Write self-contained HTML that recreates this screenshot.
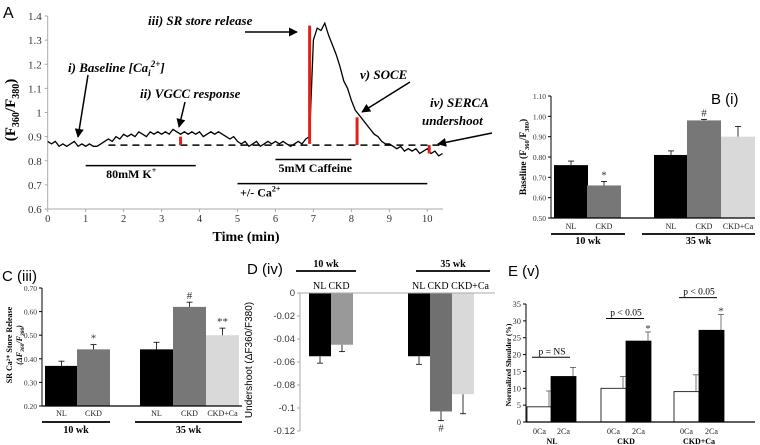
<!DOCTYPE html>
<html><head><meta charset="utf-8">
<style>
html,body{margin:0;padding:0;background:#fff;}
svg{display:block;font-family:"Liberation Serif",serif;}
.sans{font-family:"Liberation Sans",sans-serif;}
</style></head>
<body>
<svg id="fig" width="760" height="445" viewBox="0 0 760 445" xmlns="http://www.w3.org/2000/svg">
<defs><marker id="ah" viewBox="0 0 10 10" refX="9" refY="5" markerWidth="6" markerHeight="6" orient="auto"><path d="M0,0 L10,5 L0,10 z" fill="#000"/></marker></defs>
<g id="pA"></g>
<g id="pB"></g>
<g id="pC"></g>
<g id="pD"></g>
<g id="pE"></g>
</svg>
<script>
// ---------- Panel A data ----------
const traceValues = [0.88,0.87,0.88,0.86,0.87,0.86,0.87,0.88,0.86,0.87,0.86,0.87,0.86,0.86,0.87,0.88,
0.89,0.88,0.90,0.89,0.91,0.90,0.91,0.90,0.92,0.91,0.90,0.92,0.91,0.92,0.91,
0.92,0.91,0.93,0.92,0.91,0.92,0.91,0.92,0.91,0.92,0.90,0.91,0.92,0.91,0.92,
0.91,0.90,0.89,0.90,0.88,0.87,0.88,0.86,0.87,0.88,
0.86,0.87,0.88,0.87,0.88,0.87,0.88,0.87,0.86,0.87,0.88,0.87,0.89,
0.90,1.30,1.35,1.34,1.37,1.32,1.28,1.24,1.19,1.13,1.10,1.05,1.01,0.99,0.97,0.95,0.93,0.91,0.90,0.88,0.87,0.87,
0.86,0.85,0.86,0.84,0.85,0.84,0.85,0.83,0.84,0.85,0.83,0.84,0.82,0.83];
const traceStep = 0.1;
const aYTicks = ["0.6","0.7","0.8","0.9","1","1.1","1.2","1.3","1.4"];
const aXTicks = [0,1,2,3,4,5,6,7,8,9,10];
const dashedLevel = 0.865;
const redMarks = [[3.5,0.865,0.90],[6.9,0.87,1.36],[8.15,0.865,0.98],[10.05,0.83,0.865]];

// ---------- Panel B ----------
const bCats = ["NL","CKD","NL","CKD","CKD+Ca"];
const bValues = [0.76,0.66,0.81,0.98,0.90];
const bErrors = [0.02,0.02,0.02,0.005,0.05];
const bMarks = ["","*","","#",""];
const bTicks = ["0.50","0.60","0.70","0.80","0.90","1.00","1.10"];
// ---------- Panel C ----------
const cCats = ["NL","CKD","NL","CKD","CKD+Ca"];
const cValues = [0.37,0.44,0.44,0.62,0.50];
const cErrors = [0.02,0.02,0.03,0.02,0.03];
const cMarks = ["","*","","#","**"];
const cTicks = ["0.20","0.30","0.40","0.50","0.60","0.70"];
// ---------- Panel D ----------
const dCats = ["NL","CKD","NL","CKD","CKD+Ca"];
const dValues = [-0.055,-0.045,-0.055,-0.103,-0.088];
const dErrors = [0.006,0.006,0.007,0.008,0.017];
const dTicks = ["0","-0.02","-0.04","-0.06","-0.08","-0.1","-0.12"];
// ---------- Panel E ----------
const eGroups = ["NL","CKD","CKD+Ca"];
const eCats = ["0Ca","2Ca","0Ca","2Ca","0Ca","2Ca"];
const eValues = [4.5,13.5,10,24,9,27.2];
const eErrors = [4.7,2.7,3.5,2.7,5,4.7];
const ePLabels = ["p = NS","p < 0.05","p < 0.05"];
const eTicks = ["0","5","10","15","20","25","30","35"];

const NS="http://www.w3.org/2000/svg";
function mk(parent,tag,attrs,text){const e=document.createElementNS(NS,tag);for(const k in attrs)e.setAttribute(k,attrs[k]);if(text!==undefined)e.textContent=text;parent.appendChild(e);return e;}

// ===== Panel A =====
(function(){
const g=document.getElementById('pA');
const x0=47.7,pxMin=37.96,yTop=16,yBot=209,vMin=0.6,vMax=1.4;
const X=t=>x0+t*pxMin, Y=v=>yBot-(v-vMin)/(vMax-vMin)*(yBot-yTop);
let t=mk(g,'text',{x:3,y:18,'font-size':16,class:'sans'},'A');

let l=mk(g,'line',{x1:x0,y1:yTop,x2:x0,y2:yBot,stroke:'#aaa','stroke-width':1});

l=mk(g,'line',{x1:x0,y1:yBot,x2:443,y2:yBot,stroke:'#aaa','stroke-width':1});

aYTicks.forEach(s=>{const y=Y(parseFloat(s));
 const tk=mk(g,'line',{x1:x0-3,y1:y,x2:x0,y2:y,stroke:'#aaa'});
 const tl=mk(g,'text',{x:x0-6,y:y+4,'font-size':11,'text-anchor':'end',fill:'#333'},s);});
aXTicks.forEach(v=>{const x=X(v);
 const tk=mk(g,'line',{x1:x,y1:yBot,x2:x,y2:yBot+3,stroke:'#aaa'});
 const tl=mk(g,'text',{x:x,y:yBot+13,'font-size':10.5,'text-anchor':'middle',fill:'#333'},String(v));});
t=mk(g,'text',{x:246,y:241,'font-size':14,'font-weight':'bold','text-anchor':'middle'},'Time (min)');

t=mk(g,'text',{transform:'translate(15,110) rotate(-90)','font-size':15,'font-weight':'bold','text-anchor':'middle'});
t.innerHTML='(F<tspan font-size="10" dy="4">360</tspan><tspan dy="-4">/F</tspan><tspan font-size="10" dy="4">380</tspan><tspan dy="-4">)</tspan>';

l=mk(g,'line',{x1:X(1.6),y1:Y(dashedLevel),x2:X(10.4),y2:Y(dashedLevel),stroke:'#000','stroke-width':1.5,'stroke-dasharray':'7,5'});

const pts=traceValues.map((v,i)=>X(i*traceStep).toFixed(1)+','+Y(v).toFixed(1)).join(' ');
const p=mk(g,'polyline',{points:pts,fill:'none',stroke:'#000','stroke-width':1.3});

redMarks.forEach(r=>{const m=mk(g,'line',{x1:X(r[0]),y1:Y(r[1]),x2:X(r[0]),y2:Y(r[2]),stroke:'#e0201b','stroke-width':3});
 });
const bars=[[1,3.9,0.78,'80mM K',2.2,0.745,'+'],[6,8,0.805,'5mM Caffeine',7.05,0.77,''],[5,10,0.705,'+/- Ca',5.6,0.668,'2+']];
bars.forEach((b,i)=>{const ln=mk(g,'line',{x1:X(b[0]),y1:Y(b[2]),x2:X(b[1]),y2:Y(b[2]),stroke:'#000','stroke-width':1.5});
 
 const tx=mk(g,'text',{x:X(b[4]),y:Y(b[5])+4,'font-size':12,'font-weight':'bold','text-anchor':'middle'});
 tx.innerHTML=b[3]+(b[6]?'<tspan font-size="8" dy="-5">'+b[6]+'</tspan>':'');
 });
const ann=[[148,25,'iii) SR store release'],[68,72,'i) Baseline [Ca<tspan font-size="9" dy="4">i</tspan><tspan font-size="9" dy="-9">2+</tspan><tspan dy="5">]</tspan>'],[140,98,'ii) VGCC response'],[360,79,'v) SOCE'],[430,107,'iv) SERCA'],[422,125,'undershoot']];
ann.forEach(a=>{const tx=mk(g,'text',{x:a[0],y:a[1],'font-size':13,'font-weight':'bold','font-style':'italic'});tx.innerHTML=a[2];
 });
const arrows=[[245,32,297,32],[88,75,78,137],[185,102,179,127],[410,82,362,112],[492,133,438,144]];
arrows.forEach(a=>{const ar=mk(g,'line',{x1:a[0],y1:a[1],x2:a[2],y2:a[3],stroke:'#000','stroke-width':1.5,'marker-end':'url(#ah)'});
 });
})();

function barPanel(gid,o){
 const g=document.getElementById(gid);
 const Y=v=>o.y0-(v-o.vMin)/(o.vMax-o.vMin)*(o.y0-o.y1);
 let l=mk(g,'line',{x1:o.ax,y1:o.y1,x2:o.ax,y2:o.y0,stroke:o.axisColor||'#000','stroke-width':1});
 
 o.ticks.forEach(s=>{const y=Y(parseFloat(s));
  const tk=mk(g,'line',{x1:o.ax-3,y1:y,x2:o.ax,y2:y,stroke:o.axisColor||'#000'});
  const tl=mk(g,'text',{x:o.ax-5,y:y+3,'font-size':o.tickSize||7.5,'text-anchor':'end',fill:'#333',class:o.tickClass||''},s);});
 const base=Y(o.baseVal);
 o.values.forEach((v,i)=>{const x=o.xs[i],w=o.w;const yv=Y(v);
  const r=mk(g,'rect',{x:x,y:Math.min(yv,base),width:w,height:Math.abs(base-yv),fill:o.colors[i],stroke:o.strokes?o.strokes[i]:'none','stroke-width':0.8});
  
  const ey=v<o.baseVal?Y(v-o.errors[i]):Y(v+o.errors[i]);
  const cx=o.errOff?x+w-o.errOff:x+w/2;
  const e=mk(g,'line',{x1:cx,y1:yv,x2:cx,y2:ey,stroke:o.errColor||'#000','stroke-width':0.8});
  const c=mk(g,'line',{x1:cx-3,y1:ey,x2:cx+3,y2:ey,stroke:o.errColor||'#000','stroke-width':0.8});
  if(o.marks&&o.marks[i]){const my=v<o.baseVal?ey+11:ey+(o.markDy!==undefined?o.markDy:-3);
   const m=mk(g,'text',{x:cx,y:my,'font-size':11,'text-anchor':'middle',fill:'#333'},o.marks[i]);}
  if(o.cats){const cl=mk(g,'text',{x:x+w/2,y:o.catY,'font-size':o.catSize||8,'text-anchor':'middle',fill:'#222'},o.cats[i]);}
 });
 return {g,Y};
}
function baseline(g,p,x1,x2,y){const l=mk(g,'line',{x1:x1,y1:y,x2:x2,y2:y,stroke:'#000','stroke-width':1.3});}
function groupLine(g,p,x1,x2,y,label,ty){const l=mk(g,'line',{x1:x1,y1:y,x2:x2,y2:y,stroke:'#000','stroke-width':1.8});
 const t=mk(g,'text',{x:(x1+x2)/2,y:ty,'font-size':10,'font-weight':'bold','text-anchor':'middle'},label);}
const greys=['#000','#777','#000','#777','#d9d9d9'];

// B
(function(){const r=barPanel('pB',{p:'b',ax:551,y0:218,y1:96,vMin:0.5,vMax:1.1,baseVal:0.5,ticks:bTicks,values:bValues,errors:bErrors,marks:bMarks,cats:bCats,xs:[554,587,654,687,721],w:34,colors:greys,catY:229});
 const g=r.g;baseline(g,'b',551,755,218);
 groupLine(g,'b',551,625,234,'10 wk',244);groupLine(g,'b',642,755,234,'35 wk',244);
 let t=mk(g,'text',{x:711,y:104,'font-size':15,class:'sans'},'B (i)');
 t=mk(g,'text',{transform:'translate(526,157) rotate(-90)','font-size':9.5,'font-weight':'bold','text-anchor':'middle'});
 t.innerHTML='Baseline (F<tspan font-size="6.5" dy="3">360</tspan><tspan dy="-3">/F</tspan><tspan font-size="6.5" dy="3">380</tspan><tspan dy="-3">)</tspan>';
 })();

// C
(function(){const r=barPanel('pC',{p:'c',ax:42,y0:406,y1:288,vMin:0.2,vMax:0.7,baseVal:0.2,ticks:cTicks,values:cValues,errors:cErrors,marks:cMarks,cats:cCats,xs:[45,77,140,173,206],w:33,colors:greys,catY:416});
 const g=r.g;baseline(g,'c',42,242,406);
 groupLine(g,'c',42,110,422,'10 wk',433);groupLine(g,'c',135,242,422,'35 wk',433);
 let t=mk(g,'text',{x:2,y:281,'font-size':15,class:'sans'},'C (iii)');
 t=mk(g,'text',{transform:'translate(12,345) rotate(-90)','font-size':8,'font-weight':'bold','text-anchor':'middle'},'SR Ca\u00B2\u207A Store Release');
 t=mk(g,'text',{transform:'translate(22,345) rotate(-90)','font-size':8,'font-weight':'bold','font-style':'italic','text-anchor':'middle'});
 t.innerHTML='(ΔF<tspan font-size="5.5" dy="2">360</tspan><tspan dy="-2">/F</tspan><tspan font-size="5.5" dy="2">380</tspan><tspan dy="-2">)</tspan>';
 })();

// D
(function(){const r=barPanel('pD',{p:'d',ax:300,y0:431,y1:293,vMin:-0.12,vMax:0,baseVal:0,ticks:dTicks,values:dValues,errors:dErrors,marks:["","","","#",""],xs:[309,331,408,430,452],w:22,colors:['#000','#999','#000','#707070','#d9d9d9'],axisColor:'#aaa',tickSize:9.5,tickClass:'sans'});
 const g=r.g;const l=mk(g,'line',{x1:300,y1:293,x2:495,y2:293,stroke:'#aaa'});
 groupLine(g,'d',296,356,271,'10 wk',267);groupLine(g,'d',416,490,271,'35 wk',267);
 let t=mk(g,'text',{x:313,y:289,'font-size':10},'NL CKD');
 t=mk(g,'text',{x:412,y:289,'font-size':10},'NL CKD CKD+Ca');
 t=mk(g,'text',{x:247,y:274,'font-size':15,class:'sans'},'D (iv)');
 t=mk(g,'text',{transform:'translate(252,360) rotate(-90)','font-size':10,'text-anchor':'middle',class:'sans'},'Undershoot (ΔF360/F380)');})();

// E
(function(){const xs=[527,551,601,626,674,699];
 const r=barPanel('pE',{p:'e',ax:526,y0:422,y1:304,vMin:0,vMax:35,baseVal:0,ticks:eTicks,values:eValues,errors:eErrors,marks:["","","","*","","*"],markDy:0,cats:eCats,xs:xs,w:25,colors:['#fff','#000','#fff','#000','#fff','#000'],strokes:['#000','#000','#000','#000','#000','#000'],errOff:3,errColor:'#555',tickSize:8.5,catY:434,catSize:8});
 const g=r.g;baseline(g,'e',526,755,422);
 eGroups.forEach((s,i)=>{const t=mk(g,'text',{x:xs[2*i]+25,y:444,'font-size':8,'font-weight':'bold','text-anchor':'middle'},s);});
 const pOff=[3,4,5];
 ePLabels.forEach((s,i)=>{const top=Math.max(eValues[2*i],eValues[2*i+1])+eErrors[2*i+1]+pOff[i];const y=r.Y(top);
  const l=mk(g,'line',{x1:xs[2*i]+5,y1:y,x2:xs[2*i]+43,y2:y,stroke:'#000','stroke-width':1});
  const t=mk(g,'text',{x:xs[2*i]+25,y:y-3,'font-size':9.5,'text-anchor':'middle'},s);});
 let t=mk(g,'text',{x:508,y:276,'font-size':15,class:'sans'},'E (v)');
 t=mk(g,'text',{transform:'translate(511,365) rotate(-90)','font-size':7.5,'font-weight':'bold','text-anchor':'middle'},'Normalized Shoulder (%)');})();
</script>
</body></html>
